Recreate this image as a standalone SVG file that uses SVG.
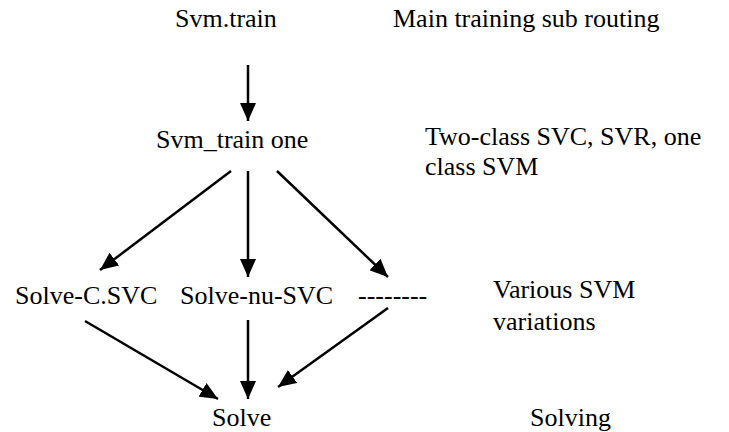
<svg xmlns="http://www.w3.org/2000/svg" width="729" height="432" viewBox="0 0 729 432">
<defs>
<marker id="ah" markerUnits="userSpaceOnUse" markerWidth="18" markerHeight="16" refX="18" refY="8" orient="auto">
<path d="M0,0 L18,8 L0,16 z" fill="#000"/>
</marker>
</defs>
<rect width="729" height="432" fill="#fff"/>
<g id="connectors" stroke="#000" stroke-width="2.5" fill="none" marker-end="url(#ah)">
<line x1="248" y1="65" x2="248" y2="121"/>
<line x1="231" y1="171" x2="100" y2="270"/>
<line x1="248" y1="171" x2="248" y2="277"/>
<line x1="277" y1="171" x2="388" y2="277"/>
<line x1="85" y1="321" x2="218" y2="399"/>
<line x1="248" y1="320" x2="248" y2="399"/>
<line x1="388" y1="308" x2="278" y2="387"/>
</g>
<g id="svm-train"><text x="175" y="27" font-family="Liberation Serif" font-size="26">Svm.train</text></g>
<g id="label-main"><text x="393" y="27" font-family="Liberation Serif" font-size="26">Main training sub routing</text></g>
<g id="svm-train-one"><text x="156" y="148" font-family="Liberation Serif" font-size="26">Svm_train one</text></g>
<g id="label-two-class"><text x="425" y="145" font-family="Liberation Serif" font-size="26">Two-class SVC, SVR, one</text><text x="425" y="175" font-family="Liberation Serif" font-size="26">class SVM</text></g>
<g id="solve-c-svc"><text x="15" y="304" font-family="Liberation Serif" font-size="26">Solve-C.SVC</text></g>
<g id="solve-nu-svc"><text x="180" y="304" font-family="Liberation Serif" font-size="26">Solve-nu-SVC</text></g>
<g id="dashes"><text x="358" y="304" font-family="Liberation Serif" font-size="26">--------</text></g>
<g id="label-various"><text x="493" y="298" font-family="Liberation Serif" font-size="26">Various SVM</text><text x="493" y="330" font-family="Liberation Serif" font-size="26">variations</text></g>
<g id="solve"><text x="212" y="426" font-family="Liberation Serif" font-size="26">Solve</text></g>
<g id="label-solving"><text x="530" y="426" font-family="Liberation Serif" font-size="26">Solving</text></g>
</svg>
